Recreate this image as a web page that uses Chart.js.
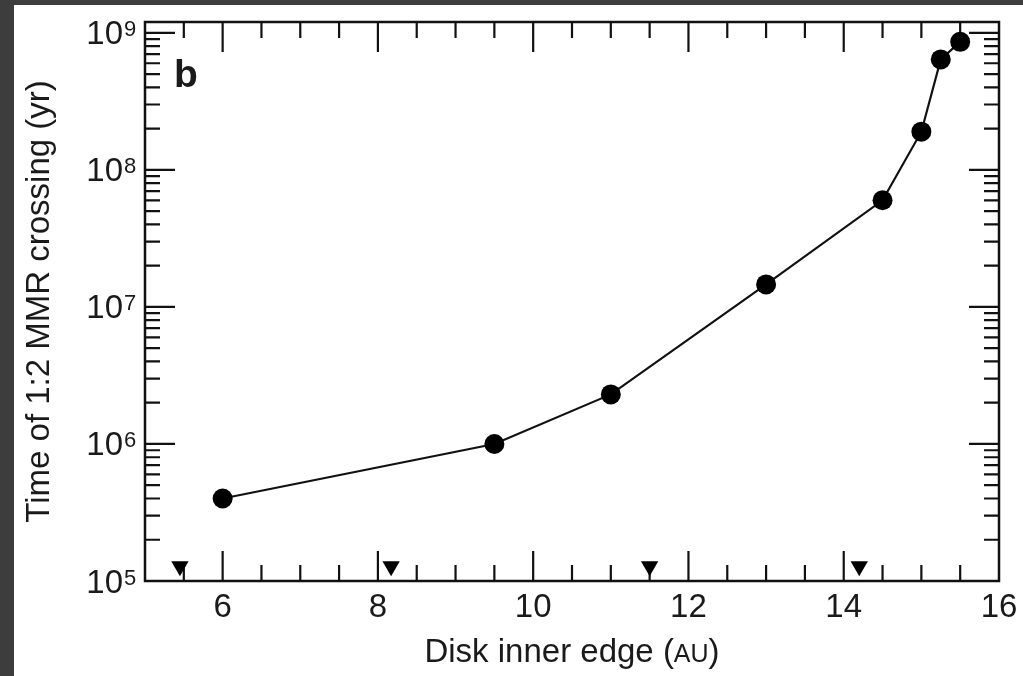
<!DOCTYPE html>
<html>
<head>
<meta charset="utf-8">
<script src="https://cdn.jsdelivr.net/npm/chart.js@4.4.1/dist/chart.umd.min.js"></script>
<style>
  html, body { margin: 0; padding: 0; background: #3d3d3d; overflow: hidden; }
  #panel { position: absolute; left: 14px; top: 5px; width: 1009px; height: 671px; background: #fff; }
</style>
</head>
<body>
<div id="panel"><canvas id="chart" width="1009" height="671"></canvas></div>
<script>
// disk inner edge (AU) vs time of 1:2 MMR crossing (yr)
const innerEdge = [6, 9.5, 11, 13, 14.5, 15, 15.25, 15.5];
const crossingTime = [4.0e5, 1.0e6, 2.3e6, 1.46e7, 6.0e7, 1.9e8, 6.4e8, 8.6e8];

// triangles along the bottom axis
const markerEdge = [5.45, 8.17, 11.5, 14.2];
const markerTime = [1.28e5, 1.28e5, 1.28e5, 1.28e5];

const xTickLabels = [6, 8, 10, 12, 14, 16];
const yTickExponents = [5, 6, 7, 8, 9];

const FONT = "'Liberation Sans', Arial, Helvetica, sans-serif";
const INK = "#1a1a1a";

// frame, inward ticks, log labels and axis titles
const framePlugin = {
  id: "frame",
  beforeDatasetsDraw(chart) {
    const { ctx, chartArea: a } = chart;
    const xs = chart.scales.x, ys = chart.scales.y;
    ctx.save();
    ctx.strokeStyle = "#111";
    ctx.lineWidth = 2.5;
    ctx.strokeRect(a.left, a.top, a.right - a.left, a.bottom - a.top);

    ctx.lineWidth = 2.2;
    ctx.beginPath();
    // x ticks, every 0.5, long ones on labelled values
    for (let v = 5.5; v < 16; v += 0.5) {
      const px = xs.getPixelForValue(v);
      const len = xTickLabels.includes(v) ? 30 : 16;
      ctx.moveTo(px, a.bottom); ctx.lineTo(px, a.bottom - len);
      ctx.moveTo(px, a.top); ctx.lineTo(px, a.top + len);
    }
    // y ticks, decades and 2..9
    yTickExponents.forEach(e => {
      const base = Math.pow(10, e);
      const py = ys.getPixelForValue(base);
      ctx.moveTo(a.left, py); ctx.lineTo(a.left + 30, py);
      ctx.moveTo(a.right, py); ctx.lineTo(a.right - 30, py);
      for (let m = 2; m <= 9; m++) {
        const v = m * base;
        if (v > ys.max) break;
        const pm = ys.getPixelForValue(v);
        ctx.moveTo(a.left, pm); ctx.lineTo(a.left + 15, pm);
        ctx.moveTo(a.right, pm); ctx.lineTo(a.right - 15, pm);
      }
    });
    ctx.stroke();

    // y labels 10^n
    ctx.fillStyle = INK;
    yTickExponents.forEach(e => {
      const py = ys.getPixelForValue(Math.pow(10, e));
      ctx.font = "33px " + FONT;
      ctx.textAlign = "right";
      ctx.textBaseline = "alphabetic";
      ctx.fillText("10", a.left - 22, py + 11.5);
      ctx.font = "22px " + FONT;
      ctx.textAlign = "left";
      ctx.fillText(String(e), a.left - 21, py + 3.5);
    });

    // x title with small-caps unit
    const parts = [["Disk inner edge (", 33], ["AU", 25], [")", 33]];
    let total = 0;
    parts.forEach(p => { ctx.font = p[1] + "px " + FONT; total += ctx.measureText(p[0]).width; });
    let tx = (a.left + a.right) / 2 - total / 2;
    ctx.textAlign = "left";
    parts.forEach(p => {
      ctx.font = p[1] + "px " + FONT;
      ctx.fillText(p[0], tx, 657);
      tx += ctx.measureText(p[0]).width;
    });

    // y title
    ctx.save();
    ctx.translate(35, (a.top + a.bottom) / 2);
    ctx.rotate(-Math.PI / 2);
    ctx.font = "33px " + FONT;
    ctx.textAlign = "center";
    ctx.fillText("Time of 1:2 MMR crossing (yr)", 0, 0);
    ctx.restore();

    // panel letter
    ctx.font = "bold 39px " + FONT;
    ctx.textAlign = "left";
    ctx.fillText("b", 160, 82);
    ctx.restore();
  }
};

new Chart(document.getElementById("chart"), {
  type: "scatter",
  data: {
    datasets: [
      {
        data: innerEdge.map((x, i) => ({ x: x, y: crossingTime[i] })),
        showLine: true,
        borderColor: "#111",
        borderWidth: 2.2,
        pointRadius: 10,
        pointBackgroundColor: "#000",
        pointBorderWidth: 0,
        tension: 0,
        clip: false
      },
      {
        data: markerEdge.map((x, i) => ({ x: x, y: markerTime[i] })),
        showLine: false,
        pointStyle: "triangle",
        rotation: 180,
        pointRadius: 10,
        pointBackgroundColor: "#000",
        pointBorderWidth: 0,
        clip: false
      }
    ]
  },
  options: {
    responsive: false,
    animation: false,
    events: [],
    layout: { padding: { left: 0, right: 24, top: 17, bottom: 0 } },
    plugins: { legend: { display: false }, tooltip: { enabled: false } },
    scales: {
      x: {
        type: "linear",
        min: 5,
        max: 16,
        grid: { display: false, drawTicks: false },
        border: { display: false },
        afterBuildTicks: s => { s.ticks = xTickLabels.map(v => ({ value: v })); },
        afterFit: s => { s.height = 95; s.paddingLeft = 0; s.paddingRight = 0; },
        ticks: {
          font: { family: FONT, size: 33 },
          color: INK,
          padding: 7,
          maxRotation: 0,
          autoSkip: false
        }
      },
      y: {
        type: "logarithmic",
        min: 1e5,
        max: 1.2e9,
        grid: { display: false, drawTicks: false },
        border: { display: false },
        ticks: { display: false },
        afterFit: s => { s.width = 131; s.paddingTop = 0; s.paddingBottom = 0; }
      }
    }
  },
  plugins: [framePlugin]
});
</script>
</body>
</html>
